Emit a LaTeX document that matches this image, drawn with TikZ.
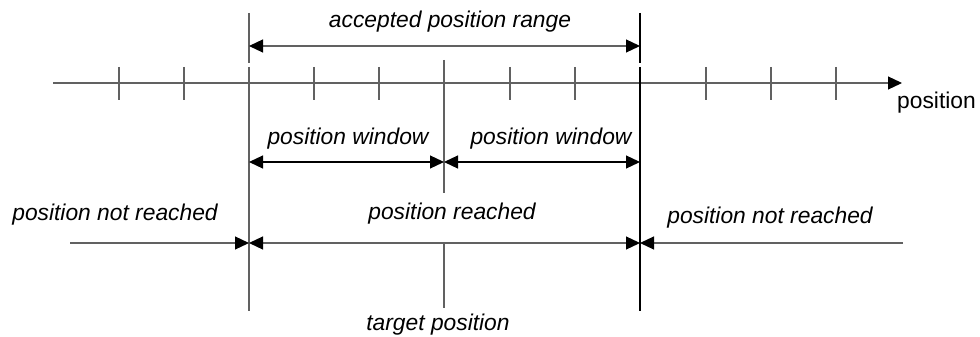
\documentclass[tikz,border=0pt]{standalone}
\usepackage{fontspec}
\setmainfont{Liberation Sans}
\usetikzlibrary{arrows.meta}
\begin{document}
\begin{tikzpicture}[x=1pt,y=-1pt,
  ln/.style={line width=1.2pt, draw=black!62},
  blk/.style={line width=1.2pt, draw=black},
  tipend/.style={-{Triangle[length=14pt,width=13pt,color=black]}},
  tipboth/.style={{Triangle[length=14pt,width=13pt,color=black]}-{Triangle[length=14pt,width=13pt,color=black]}},
  lab/.style={font=\fontsize{22.8}{27}\selectfont\itshape, anchor=base, inner sep=0pt, text=black},
  plain/.style={font=\fontsize{22.8}{27}\selectfont, anchor=base west, inner sep=0pt, text=black}]
\useasboundingbox (0,0) rectangle (980,337);

% axis
\coordinate (axL) at (53,83);
\coordinate (axR) at (902,83);
\draw[ln, tipend] (axL) -- (axR);
\node[plain] (poslab) at (897,108) {position};
\foreach \x in {119,184,314,379,510,575,706,771,836}
  \draw[ln] (\x,67) -- (\x,100);

% vertical reference lines
\coordinate (Lt) at (249,13); \coordinate (Lm) at (249,63);
\coordinate (Lb0) at (249,67); \coordinate (Lb) at (249,311);
\draw[ln] (Lt) -- (Lm);
\draw[ln] (Lb0) -- (Lb);
\coordinate (Rt) at (640,13); \coordinate (Rm) at (640,63);
\coordinate (Rb0) at (640,67); \coordinate (Rb) at (640,311);
\draw[blk] (Rt) -- (Rm);
\draw[blk] (Rb0) -- (Rb);
\coordinate (Ct) at (444,60); \coordinate (Cm) at (444,193);
\coordinate (Cb0) at (444,243); \coordinate (Cb) at (444,308);
\draw[ln] (Ct) -- (Cm);
\draw[ln] (Cb0) -- (Cb);

% accepted position range
\coordinate (arL) at (249,46); \coordinate (arR) at (640,46);
\draw[ln, tipboth] (arL) -- (arR);
\node[lab] (acc) at (450,28) {accepted position range};

% position windows
\coordinate (pwL) at (249,162); \coordinate (pwC) at (444,162); \coordinate (pwR) at (640,162);
\draw[blk, tipboth] (pwL) -- (pwC);
\draw[blk, tipboth] (pwC) -- (pwR);
\node[lab] (pw1) at (348,144) {position window};
\node[lab] (pw2) at (551,144) {position window};

% reached / not reached
\coordinate (nrL) at (70,243); \coordinate (rL) at (249,243);
\coordinate (rR) at (640,243); \coordinate (nrR) at (903,243);
\draw[ln, tipend] (nrL) -- (rL);
\draw[ln, tipboth] (rL) -- (rR);
\draw[ln, tipend] (nrR) -- (rR);
\node[lab] (nr1) at (115,220) {position not reached};
\node[lab] (re) at (452,219) {position reached};
\node[lab] (nr2) at (770,223) {position not reached};
\node[lab] (tp) at (438,330) {target position};
\end{tikzpicture}
\end{document}
